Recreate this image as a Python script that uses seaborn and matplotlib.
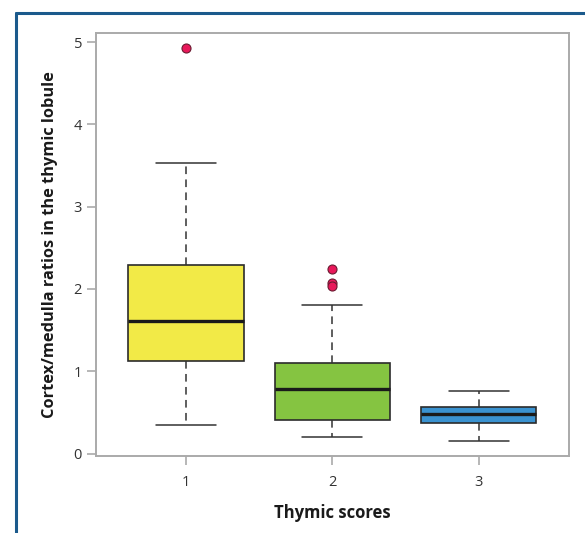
import matplotlib
matplotlib.use("Agg")
import matplotlib.pyplot as plt
import seaborn as sns
from matplotlib.lines import Line2D

# Box summaries (one entry per thymic score)
scores = ["1", "2", "3"]
q1 = [1.13, 0.41, 0.365]
medians = [1.605, 0.785, 0.477]
q3 = [2.285, 1.096, 0.567]
whisker_low = [0.35, 0.195, 0.15]
whisker_high = [3.53, 1.80, 0.76]
outliers = [[4.93], [2.24, 2.07, 2.03], []]
box_colors = ["#f2ea47", "#85c441", "#3a92d0"]

sns.set_theme(style="white")
plt.rcParams["font.family"] = ["Open Sans", "DejaVu Sans"]

stats = []
for i, s in enumerate(scores):
    stats.append({
        "label": s,
        "q1": q1[i],
        "med": medians[i],
        "q3": q3[i],
        "whislo": whisker_low[i],
        "whishi": whisker_high[i],
        "fliers": outliers[i],
    })

fig = plt.figure(figsize=(5.85, 5.33), dpi=100)
ax = fig.add_axes([0.164, 0.1445, 0.809, 0.7935])

bp = ax.bxp(
    stats,
    positions=range(len(scores)),
    widths=0.79,
    capwidths=0.41,
    patch_artist=True,
    boxprops=dict(edgecolor="#2b2b2b", linewidth=1.2),
    medianprops=dict(color="#1a1a1a", linewidth=2.4),
    whiskerprops=dict(color="#333333", linewidth=1.1, linestyle=(0, (5, 3.5))),
    capprops=dict(color="#333333", linewidth=1.1),
    flierprops=dict(marker="o", markersize=6.5, markerfacecolor="#e8185a",
                    markeredgecolor="#6a1a30", markeredgewidth=0.8, linestyle="none"),
)
for patch, c in zip(bp["boxes"], box_colors):
    patch.set_facecolor(c)

ax.set_xlim(-0.616, 2.62)
ax.set_ylim(-0.03, 5.11)
ax.set_xticks(range(len(scores)))
ax.set_xticklabels(scores)
ax.set_yticks([0, 1, 2, 3, 4, 5])

for sp in ax.spines.values():
    sp.set_color("#aaaaaa")
    sp.set_linewidth(1.4)
ax.tick_params(axis="both", which="major", direction="out", length=6.5, width=1.2,
               color="#aaaaaa", labelcolor="#333333", labelsize=10.5,
               bottom=True, left=True)
ax.tick_params(axis="x", pad=7.5)
ax.tick_params(axis="y", pad=3.5)

ax.set_xlabel("Thymic scores", fontsize=12, fontweight="bold", color="#1a1a1a", labelpad=10)
ax.set_ylabel("Cortex/medulla ratios in the thymic lobule", fontsize=11.8,
              fontweight="bold", color="#1a1a1a", labelpad=11)

# blue frame on the top and left of the figure
frame = "#1b5a8c"
fig.add_artist(Line2D([16 / 585, 1], [1 - 12.5 / 533, 1 - 12.5 / 533],
                      transform=fig.transFigure, color=frame, linewidth=2.2))
fig.add_artist(Line2D([16 / 585, 16 / 585], [0, 1 - 12.5 / 533],
                      transform=fig.transFigure, color=frame, linewidth=2.2))

fig.savefig("out.png", dpi=100)
